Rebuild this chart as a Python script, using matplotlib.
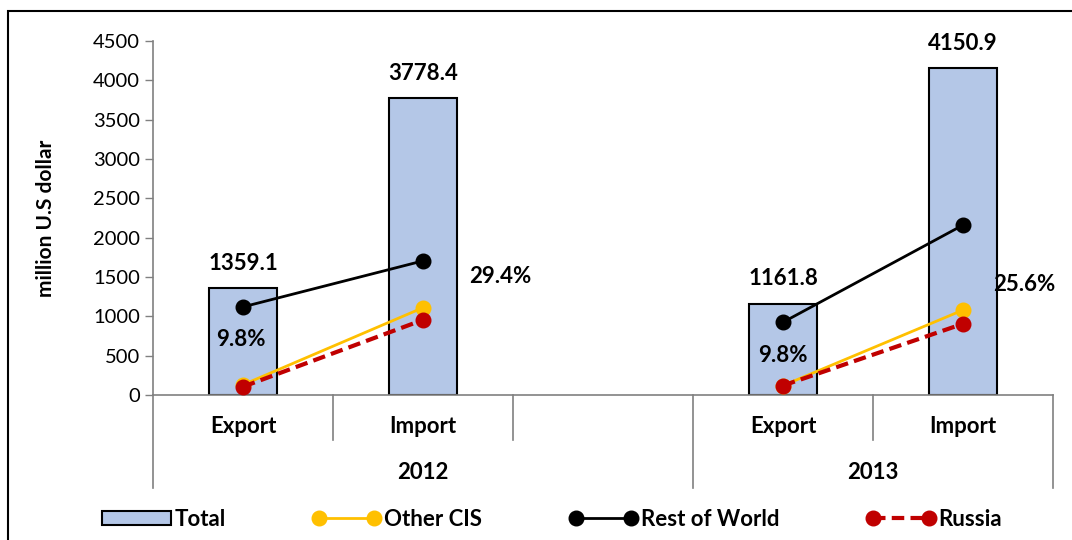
import numpy as np
import matplotlib
matplotlib.use("Agg")
import matplotlib.pyplot as plt
from matplotlib.patches import Rectangle, Patch
from matplotlib.lines import Line2D

plt.rcParams['font.family'] = ['Lato', 'DejaVu Sans']

# data (index 2 is the empty slot in the 2012 group)
categories = ["Export", "Import", "", "Export", "Import"]
total = [1359.1, 3778.4, np.nan, 1161.8, 4150.9]
other_cis = [130, 1110, np.nan, 120, 1080]
rest_world = [1120, 1705, np.nan, 925, 2160]
russia = [105, 955, np.nan, 120, 905]
years = ["2012", "2013"]
year_span = [(-0.5, 2.5), (2.5, 4.5)]
pct_labels = ["9.8%", "29.4%", "9.8%", "25.6%"]
pct_pos = [(-0.01, 700), (1.43, 1510), (3.0, 505), (4.34, 1410)]

x = np.arange(len(categories))
grey = "#808080"
fs = 16

fig = plt.figure(figsize=(10.72, 5.4), dpi=100)
ax = fig.add_axes([153/1072, 1-395/540, 900/1072, 354/540])

bar_x = [i for i in x if not np.isnan(total[i])]
bar_v = [total[i] for i in bar_x]
ax.bar(bar_x, bar_v, width=0.38, color="#B4C7E7", edgecolor="black", linewidth=1.5, zorder=2)
for xi, v in zip(bar_x, bar_v):
    ax.text(xi, v + 180, f"{v:.1f}", ha="center", va="bottom", fontsize=fs, fontweight="bold")

ax.plot(x, other_cis, color="#FFC000", lw=2, marker="o", ms=10.5, zorder=3)
ax.plot(x, rest_world, color="black", lw=2, marker="o", ms=10.5, zorder=4)
ax.plot(x, russia, color="#C00000", lw=3, ls=(0, (3, 1.5)), marker="o", ms=10.5, zorder=5)

for t, (px, py) in zip(pct_labels, pct_pos):
    ax.text(px, py, t, ha="center", va="center", fontsize=fs, fontweight="bold", zorder=6)

ax.set_xlim(-0.5, 4.5)
ax.set_ylim(0, 4500)
ax.set_yticks(np.arange(0, 4501, 500))
ax.tick_params(axis="y", labelsize=14.5, color=grey, length=6, width=1)
ax.set_xticks([])
for s in ["top", "right"]:
    ax.spines[s].set_visible(False)
for s in ["left", "bottom"]:
    ax.spines[s].set_color(grey)
    ax.spines[s].set_linewidth(1.2)
ax.set_ylabel("million U.S dollar", fontsize=15, fontweight="bold")
ax.yaxis.set_label_coords(-0.108, 0.5)

# category / group axis
tr = ax.get_xaxis_transform()
for i, c in enumerate(categories):
    ax.text(x[i], -0.09, c, transform=tr, ha="center", va="center", fontsize=fs, fontweight="bold")
for yr, (a, b) in zip(years, year_span):
    ax.text((a + b) / 2, -0.22, yr, transform=tr, ha="center", va="center", fontsize=fs, fontweight="bold")
for b in [0.5, 1.5, 3.5]:
    ax.plot([b, b], [0, -0.127], transform=tr, color=grey, lw=1.2, clip_on=False)
for b in [-0.5, 2.5, 4.5]:
    ax.plot([b, b], [0, -0.263], transform=tr, color=grey, lw=1.2, clip_on=False)

handles = [
    Patch(facecolor="#B4C7E7", edgecolor="black", linewidth=1.5),
    Line2D([], [], color="#FFC000", lw=2, marker="o", ms=10.5),
    Line2D([], [], color="black", lw=2, marker="o", ms=10.5),
    Line2D([], [], color="#C00000", lw=3, ls=(0, (3, 1.5)), marker="o", ms=10.5),
]
fig.legend(handles, ["Total", "Other CIS", "Rest of World", "Russia"], loc="center",
           bbox_to_anchor=(0.515, 1-519/540), ncol=4, frameon=False, numpoints=2,
           handlelength=3.1, handleheight=0.6, handletextpad=0.15, columnspacing=3.9,
           prop={"size": fs, "weight": "bold"})

fig.patches.append(Rectangle((8/1072, -0.1), 1.2, 1.1 - 11/540, transform=fig.transFigure,
                             fill=False, edgecolor="black", lw=1.5))

fig.savefig("out.png", dpi=100)
